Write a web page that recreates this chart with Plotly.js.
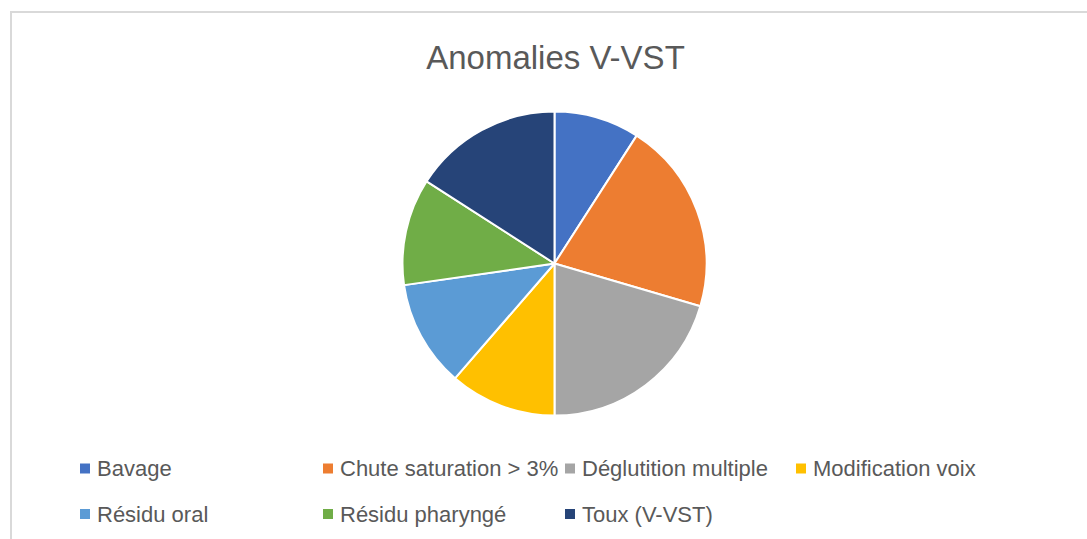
<!DOCTYPE html>
<html>
<head>
<meta charset="utf-8">
<script src="https://cdn.plot.ly/plotly-3.0.1.min.js"></script>
<style>
  html, body { margin: 0; padding: 0; background: #ffffff; overflow: hidden; }
  #chart { width: 1087px; height: 539px; position: absolute; left: 0; top: 0; }
  #frame { position: absolute; left: 10px; top: 11px; width: 1200px; height: 700px;
           border: 2px solid #d9d9d9; box-sizing: border-box; pointer-events: none; }
</style>
</head>
<body>
<div id="chart"></div>
<div id="frame"></div>
<script>
// Data
const categories = ["Bavage", "Chute saturation > 3%", "Déglutition multiple", "Modification voix",
                    "Résidu oral", "Résidu pharyngé", "Toux (V-VST)"];
const counts = [4, 9, 9, 5, 5, 5, 7];
const chartTitle = "Anomalies V-VST";

// Styling
const colors = ["#4472C4", "#ED7D31", "#A5A5A5", "#FFC000", "#5B9BD5", "#70AD47", "#264478"];
const W = 1087, H = 539;
const textColor = "#595959";
const fontFam = "Liberation Sans, Arial, sans-serif";

// pie geometry in pixels
const cx = 554.5, cy = 263.5, r = 152;

// Manual legend layout (pixel positions of marker left edges / row centers)
const legendCols = [80, 323, 565, 796];
const legendRows = [468.5, 514];
const markerSize = 10;
const textOffset = 15;

const px = x => x / W;
const py = y => 1 - y / H;

const shapes = [];
const annotations = [];
categories.forEach((lab, i) => {
  const col = i % 4, row = Math.floor(i / 4);
  const x0 = legendCols[col], yc = legendRows[row];
  shapes.push({
    type: "rect", xref: "paper", yref: "paper",
    x0: px(x0), x1: px(x0 + markerSize),
    y0: py(yc + markerSize / 2), y1: py(yc - markerSize / 2),
    fillcolor: colors[i], line: { width: 0 }
  });
  annotations.push({
    xref: "paper", yref: "paper", x: px(x0 + textOffset), y: py(yc),
    xanchor: "left", yanchor: "middle", showarrow: false,
    text: lab, font: { family: fontFam, size: 22, color: textColor }
  });
});

const trace = {
  type: "pie",
  labels: categories,
  values: counts,
  sort: false,
  direction: "clockwise",
  rotation: 0,
  textinfo: "none",
  hoverinfo: "label+value+percent",
  marker: { colors: colors, line: { color: "#ffffff", width: 2 } },
  domain: { x: [px(cx - r), px(cx + r)], y: [py(cy + r), py(cy - r)] },
  showlegend: false
};

const layout = {
  width: W, height: H,
  margin: { l: 0, r: 0, t: 0, b: 0 },
  paper_bgcolor: "rgba(0,0,0,0)",
  plot_bgcolor: "rgba(0,0,0,0)",
  title: {
    text: chartTitle,
    x: px(555.5), xref: "paper", xanchor: "center",
    y: 1 - 57 / H, yref: "container", yanchor: "middle",
    font: { family: fontFam, size: 33, color: textColor }
  },
  showlegend: false,
  shapes: shapes,
  annotations: annotations
};

Plotly.newPlot("chart", [trace], layout, { displayModeBar: false, staticPlot: true });
</script>
</body>
</html>
